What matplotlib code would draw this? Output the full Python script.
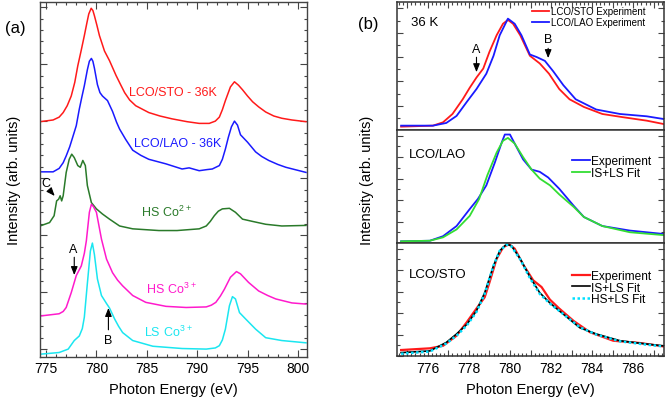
import matplotlib
matplotlib.use("Agg")
import matplotlib.pyplot as plt
from matplotlib.ticker import MultipleLocator, FuncFormatter

plt.rcParams['font.family'] = ['Liberation Sans', 'DejaVu Sans']
plt.rcParams['mathtext.default'] = 'regular'

# ---------------- Panel (a) data ----------------
sto_a_x = [774.4, 775.7, 776.3, 776.7, 777.1, 777.5, 777.85, 778.15, 778.5, 778.8, 779.05, 779.24, 779.48,
           779.65, 779.8, 780.05, 780.3, 780.8, 781.3, 781.95, 782.4, 782.8, 783.3, 783.9, 785.2, 786.3,
           787.5, 789.0, 790.2, 791.2, 791.8, 792.2, 792.5, 792.8, 793.3, 793.7, 794.1, 794.5,
           795.0, 795.5, 796.1, 796.8, 797.6, 798.4, 799.4, 800.8]
sto_a_y = [3.99, 4.02, 4.07, 4.15, 4.27, 4.44, 4.68, 4.97, 5.25, 5.50, 5.72, 5.88, 5.98,
           5.94, 5.85, 5.68, 5.50, 5.23, 5.06, 4.80, 4.64, 4.50, 4.37, 4.27, 4.15, 4.09,
           4.04, 3.99, 3.96, 3.96, 4.00, 4.07, 4.20, 4.36, 4.60, 4.69, 4.63, 4.55,
           4.44, 4.34, 4.25, 4.16, 4.09, 4.05, 4.02, 3.99]

lao_a_x = [774.4, 775.7, 776.3, 776.7, 777.0, 777.35, 777.65, 778.0, 778.3, 778.55, 778.8, 779.1, 779.3,
           779.5, 779.65, 779.8, 780.1, 780.35, 780.6, 781.1, 781.6, 782.0, 782.3, 782.9, 783.6, 784.4,
           785.2, 786.9, 788.5, 789.2, 790.2, 791.0, 791.5, 792.2, 792.5, 792.8, 793.1, 793.4, 793.7,
           794.0, 794.3, 795.0, 795.8, 796.4, 797.1, 798.0, 798.8, 800.8]
lao_a_y = [3.11, 3.11, 3.17, 3.27, 3.39, 3.55, 3.72, 3.92, 4.21, 4.42, 4.62, 4.90, 5.05,
           5.10, 5.05, 4.93, 4.64, 4.50, 4.44, 4.36, 4.17, 3.98, 3.86, 3.68, 3.49, 3.40,
           3.33, 3.25, 3.16, 3.18, 3.13, 3.15, 3.16, 3.22, 3.33, 3.51, 3.72, 3.90, 4.00,
           3.93, 3.76, 3.63, 3.46, 3.38, 3.31, 3.24, 3.19, 3.10]

co2_x = [774.4, 775.35, 775.8, 776.05, 776.25, 776.4, 776.55, 776.7, 777.0, 777.3, 777.55, 777.8,
         778.15, 778.4, 778.65, 778.9, 779.1, 779.5, 780.0, 780.6, 781.3, 782.3, 783.6, 786.2,
         788.0, 790.2, 790.9, 791.3, 791.7, 792.1, 792.5, 793.2, 793.8, 794.5, 795.5, 796.8, 798.4, 800.8]
co2_y = [2.16, 2.22, 2.34, 2.60, 2.63, 2.69, 2.60, 2.69, 3.10, 3.33, 3.42, 3.36,
         3.22, 3.19, 3.31, 3.22, 2.87, 2.57, 2.46, 2.37, 2.28, 2.16, 2.11, 2.08,
         2.08, 2.11, 2.16, 2.24, 2.34, 2.42, 2.46, 2.47, 2.40, 2.28, 2.24, 2.19, 2.16, 2.17]

hs3_x = [774.4, 776.3, 776.7, 777.0, 777.5, 778.0, 778.5, 778.8, 779.0, 779.3, 779.5, 779.7, 780.0, 780.5, 781.0,
         781.6, 782.1, 782.6, 783.6, 784.9, 786.9, 788.9, 790.9, 791.4, 791.85, 792.3, 792.7, 793.3, 793.9, 794.3,
         795.1, 796.1, 797.0, 797.8, 799.4, 800.8]
hs3_y = [0.58, 0.62, 0.66, 0.73, 0.99, 1.29, 1.46, 1.68, 1.90, 2.40, 2.54, 2.50, 2.40, 1.93, 1.58,
         1.34, 1.21, 1.11, 0.94, 0.82, 0.75, 0.73, 0.74, 0.77, 0.82, 0.93, 1.05, 1.26, 1.36, 1.32,
         1.17, 1.02, 0.94, 0.88, 0.81, 0.79]

ls3_x = [774.4, 776.3, 777.2, 777.8, 778.3, 778.6, 778.8, 779.1, 779.4, 779.6, 779.8, 780.1, 780.5,
         781.0, 781.3, 781.8, 782.2, 782.6, 783.6, 785.6, 788.5, 790.9, 791.8, 792.2, 792.5, 792.8, 793.2, 793.5,
         793.8, 794.2, 794.8, 795.8, 796.8, 798.4, 800.8]
ls3_y = [-0.09, -0.06, 0.00, 0.15, 0.23, 0.36, 0.56, 1.15, 1.72, 1.86, 1.66, 1.23, 0.94,
         0.80, 0.72, 0.53, 0.40, 0.29, 0.15, 0.05, 0.01, 0.00, 0.02, 0.06, 0.16, 0.35, 0.76, 0.92,
         0.88, 0.64, 0.53, 0.35, 0.20, 0.15, 0.11]

# ---------------- Panel (b) data ----------------
top_sto_x = [774.7, 776.25, 776.74, 777.2, 777.7, 778.04, 778.37, 778.7, 779.0, 779.35, 779.66, 779.9,
             780.15, 780.5, 780.97, 781.45, 781.9, 782.4, 782.9, 783.6, 784.5, 785.5, 786.66, 787.47]
top_sto_y = [0.026, 0.034, 0.06, 0.125, 0.24, 0.33, 0.41, 0.48, 0.61, 0.74, 0.83, 0.86,
             0.83, 0.74, 0.58, 0.52, 0.44, 0.32, 0.24, 0.18, 0.125, 0.10, 0.073, 0.047]

top_lao_x = [774.7, 776.25, 776.9, 777.4, 777.9, 778.37, 778.85, 779.2, 779.5, 779.9, 780.23, 780.56,
             780.97, 781.3, 781.7, 782.1, 782.6, 783.2, 784.2, 785.36, 786.66, 787.47]
top_lao_y = [0.034, 0.034, 0.055, 0.11, 0.22, 0.32, 0.44, 0.58, 0.74, 0.87, 0.83, 0.74,
             0.59, 0.57, 0.54, 0.46, 0.35, 0.24, 0.16, 0.125, 0.107, 0.086]

mid_exp_x = [774.7, 776.1, 776.74, 777.4, 778.04, 778.44, 778.85, 779.26, 779.6, 779.75, 780.0, 780.23,
             780.64, 781.05, 781.45, 781.86, 782.4, 783.1, 783.6, 784.5, 785.84, 787.47]
mid_exp_y = [0.015, 0.02, 0.06, 0.15, 0.30, 0.39, 0.51, 0.71, 0.89, 0.96, 0.96, 0.88,
             0.74, 0.65, 0.63, 0.58, 0.48, 0.33, 0.23, 0.15, 0.11, 0.08]

mid_fit_x = [774.7, 776.1, 776.74, 777.4, 778.04, 778.5, 778.9, 779.35, 779.66, 779.9, 780.23, 780.64,
             781.05, 781.45, 781.95, 782.4, 783.1, 783.6, 784.5, 785.84, 787.47]
mid_fit_y = [0.015, 0.02, 0.05, 0.12, 0.24, 0.39, 0.60, 0.80, 0.905, 0.93, 0.88, 0.76,
             0.65, 0.57, 0.51, 0.43, 0.32, 0.23, 0.15, 0.095, 0.07]

bot_exp_x = [774.7, 776.1, 776.74, 777.4, 777.9, 778.37, 778.77, 779.0, 779.35, 779.66, 779.94, 780.23,
             780.64, 781.13, 781.54, 781.94, 782.4, 783.1, 783.9, 785.03, 786.33, 787.47]
bot_exp_y = [0.053, 0.068, 0.09, 0.18, 0.30, 0.42, 0.52, 0.65, 0.86, 0.96, 0.99, 0.95,
             0.81, 0.67, 0.61, 0.50, 0.42, 0.31, 0.21, 0.135, 0.115, 0.085]

bot_is_x = [774.7, 776.1, 776.9, 777.4, 777.9, 778.37, 778.77, 779.2, 779.5, 779.83, 780.07, 780.5,
            780.97, 781.45, 781.94, 782.6, 783.4, 784.2, 785.36, 786.66, 787.47]
bot_is_y = [0.03, 0.045, 0.12, 0.195, 0.28, 0.40, 0.56, 0.80, 0.93, 0.99, 0.976, 0.86,
            0.70, 0.56, 0.47, 0.37, 0.25, 0.195, 0.135, 0.106, 0.09]

bot_hs_x = [774.7, 776.1, 776.9, 777.4, 777.9, 778.37, 778.77, 779.2, 779.5, 779.83, 780.07, 780.5,
            780.97, 781.45, 781.94, 782.6, 783.4, 784.2, 785.36, 786.66, 787.47]
bot_hs_y = [0.02, 0.04, 0.11, 0.18, 0.27, 0.39, 0.55, 0.80, 0.93, 0.985, 0.97, 0.855,
            0.69, 0.55, 0.465, 0.37, 0.255, 0.19, 0.13, 0.10, 0.085]

RED = '#ff1a1a'
BLUE = '#1a1aff'
DGREEN = '#2a7a2a'
MAGENTA = '#ff1acc'
CYAN = '#1ae6f0'
LGREEN = '#33dd33'
FRAME = '#444444'

fig = plt.figure(figsize=(6.66, 4.02), dpi=100)

# ---------------- Panel (a) ----------------
axa = fig.add_axes([40/666, (402-357.5)/402, 267/666, 354.5/402])
lw = 1.1
axa.plot(sto_a_x, sto_a_y, color=RED, lw=lw)
axa.plot(lao_a_x, lao_a_y, color=BLUE, lw=lw)
axa.plot(co2_x, co2_y, color=DGREEN, lw=lw)
axa.plot(hs3_x, hs3_y, color=MAGENTA, lw=lw)
axa.plot(ls3_x, ls3_y, color=CYAN, lw=lw)
axa.set_xlim(774.4, 800.9)
axa.set_ylim(-0.13, 6.09)
axa.xaxis.set_major_locator(MultipleLocator(5))
axa.xaxis.set_minor_locator(MultipleLocator(1))
axa.yaxis.set_major_locator(MultipleLocator(1))
axa.yaxis.set_minor_locator(MultipleLocator(0.2))
axa.tick_params(which='both', direction='in', top=True, right=True, color=FRAME, width=0.8)
axa.tick_params(which='major', length=5, labelsize=10)
axa.tick_params(which='minor', length=2.5)
axa.tick_params(axis='y', labelleft=False)
for s in axa.spines.values():
    s.set_color(FRAME)
    s.set_linewidth(1.0)
axa.set_xlabel('Photon Energy (eV)', fontsize=10.5, labelpad=5)
axa.set_ylabel('Intensity (arb. units)', fontsize=10.5, labelpad=10)

fs = 9
axa.text(783.27, 4.46, 'LCO/STO - 36K', color=RED, fontsize=fs, ha='left', va='baseline')
axa.text(783.76, 3.56, 'LCO/LAO - 36K', color=BLUE, fontsize=fs, ha='left', va='baseline')
axa.text(784.4, 2.34, r'$HS\ Co^{2+}$', color=DGREEN, fontsize=fs, ha='left', va='baseline')
axa.text(784.9, 0.99, r'$HS\ Co^{3+}$', color=MAGENTA, fontsize=fs, ha='left', va='baseline')
axa.text(784.75, 0.23, r'$LS\ Co^{3+}$', color=CYAN, fontsize=fs, ha='left', va='baseline')

ap = dict(arrowstyle='-|>,head_length=0.5,head_width=0.2', color='k', lw=0.8)
axa.text(774.95, 2.92, 'C', fontsize=fs, ha='center', va='center')
axa.annotate('', xy=(776.04, 2.65), xytext=(775.3, 2.80), arrowprops=ap)
axa.text(777.68, 1.76, 'A', fontsize=fs, ha='center', va='center')
axa.annotate('', xy=(777.8, 1.25), xytext=(777.8, 1.66), arrowprops=ap)
axa.text(781.19, 0.16, 'B', fontsize=fs, ha='center', va='center')
axa.annotate('', xy=(781.19, 0.77), xytext=(781.19, 0.29), arrowprops=ap)

fig.text(15/666, 1 - 28/402, '(a)', fontsize=12, ha='center', va='center')
fig.text(368/666, 1 - 24/402, '(b)', fontsize=12, ha='center', va='center')

# ---------------- Panel (b) ----------------
bl = 397/666
bw = 267/666
axt = fig.add_axes([bl, (402-131)/402, bw, 128/402])
axm = fig.add_axes([bl, (402-244)/402, bw, 113/402])
axb = fig.add_axes([bl, (402-357)/402, bw, 113/402])

lwb = 1.3
axt.plot(top_sto_x, top_sto_y, color=RED, lw=lwb, label='LCO/STO Experiment')
axt.plot(top_lao_x, top_lao_y, color=BLUE, lw=lwb, label='LCO/LAO Experiment')
axm.plot(mid_exp_x, mid_exp_y, color=BLUE, lw=lwb, label='Experiment')
axm.plot(mid_fit_x, mid_fit_y, color=LGREEN, lw=lwb, label='IS+LS Fit')
axb.plot(bot_exp_x, bot_exp_y, color=RED, lw=1.6, label='Experiment')
axb.plot(bot_is_x, bot_is_y, color='k', lw=1.2, label='IS+LS Fit')
axb.plot(bot_hs_x, bot_hs_y, color='#00e0ff', lw=1.8, ls=(0, (1, 1)), label='HS+LS Fit')

def even_fmt(v, pos):
    iv = int(round(v))
    return f'{iv}' if iv % 2 == 0 else ''

for ax in (axt, axm, axb):
    ax.set_xlim(774.5, 787.5)
    ax.set_ylim(0, 1)
    ax.xaxis.set_major_locator(MultipleLocator(1))
    ax.xaxis.set_minor_locator(MultipleLocator(0.2))
    ax.yaxis.set_major_locator(MultipleLocator(0.19))
    ax.yaxis.set_minor_locator(MultipleLocator(0.095))
    ax.tick_params(which='both', direction='in', left=True, right=True, color=FRAME, width=0.8,
                   labelleft=False)
    ax.tick_params(which='major', length=4)
    ax.tick_params(which='minor', length=2.5)
    for s in ax.spines.values():
        s.set_color('#333333')
        s.set_linewidth(1.1)

axt.tick_params(axis='x', which='both', top=True, bottom=False, labelbottom=False)
axm.tick_params(axis='x', which='both', top=False, bottom=False, labelbottom=False)
axb.tick_params(axis='x', which='both', top=False, bottom=True, labelsize=10)
axb.xaxis.set_major_formatter(FuncFormatter(even_fmt))
axb.set_xlabel('Photon Energy (eV)', fontsize=10.5, labelpad=5)
fig.text(367/666, 1 - 180/402, 'Intensity (arb. units)', fontsize=10.5, rotation=90,
         ha='center', va='center')

axt.text(775.16, 0.84, '36 K', fontsize=9.5, ha='left', va='center')
axm.text(775.1, 0.79, 'LCO/LAO', fontsize=9.5, ha='left', va='center')
axb.text(775.1, 0.73, 'LCO/STO', fontsize=9.5, ha='left', va='center')

axt.text(778.37, 0.63, 'A', fontsize=9, ha='center', va='center')
axt.annotate('', xy=(778.37, 0.43), xytext=(778.37, 0.59), arrowprops=ap)
axt.text(781.86, 0.71, 'B', fontsize=9, ha='center', va='center')
axt.annotate('', xy=(781.86, 0.54), xytext=(781.86, 0.66), arrowprops=ap)

axt.legend(loc='upper left', bbox_to_anchor=(0.504, 0.965), frameon=False, fontsize=7.0,
           handlelength=1.8, handletextpad=0.2, labelspacing=0.1, borderpad=0, borderaxespad=0)
axm.legend(loc='upper left', bbox_to_anchor=(0.654, 0.78), frameon=False, fontsize=8.6,
           handlelength=1.5, handletextpad=0.15, labelspacing=0.0, borderpad=0, borderaxespad=0)
axb.legend(loc='upper left', bbox_to_anchor=(0.654, 0.76), frameon=False, fontsize=8.6,
           handlelength=1.5, handletextpad=0.15, labelspacing=-0.05, borderpad=0, borderaxespad=0)

fig.savefig('out.png', dpi=100)
